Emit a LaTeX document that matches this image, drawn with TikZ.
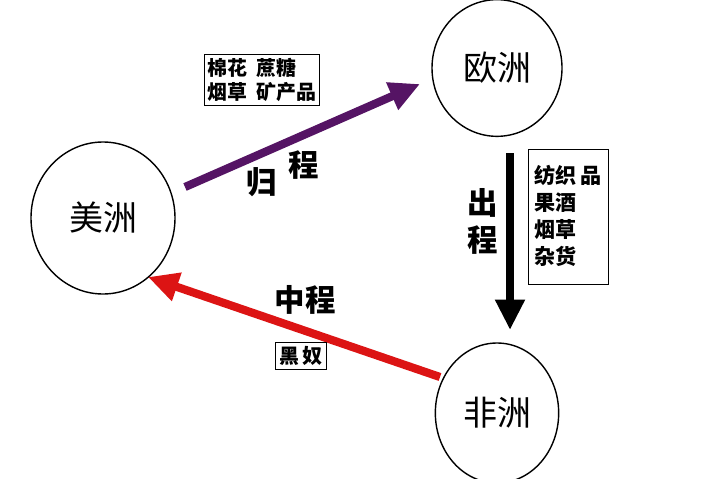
\documentclass[tikz,border=0pt]{standalone}
\usepackage{fontspec}
\setmainfont{Noto Sans CJK SC}
\usetikzlibrary{shapes.geometric,arrows.meta}
\begin{document}
\begin{tikzpicture}[x=0.03cm,y=-0.03cm,
  cont/.style={draw,ellipse,line width=1.2pt,inner sep=0pt,font=\fontsize{29}{29}\selectfont},
  arr/.style={line width=7pt,-{Triangle[length=26pt,width=24pt]}},
  lab/.style={font=\fontsize{26}{26}\selectfont\bfseries},
  box/.style={draw,line width=0.8pt,font=\fontsize{17}{21}\selectfont\bfseries,align=left,inner sep=3pt}]
\useasboundingbox (0,0) rectangle (713,478);
\node[cont,minimum width=4.32cm,minimum height=4.56cm] (am) at (103,218) {美洲};
\node[cont,minimum width=3.9cm,minimum height=4.1cm] (eu) at (497,68) {欧洲};
\node[cont,minimum width=3.7cm,minimum height=4.2cm] (af) at (497,413) {非洲};
\coordinate (p1) at (185,187); \coordinate (p2) at (420,84);
\coordinate (b1) at (510,153); \coordinate (b2) at (510,330);
\coordinate (r1) at (440,377); \coordinate (r2) at (148,277);
\draw[arr,draw={rgb,255:red,85;green,20;blue,100},fill={rgb,255:red,85;green,20;blue,100}] (p1) -- (p2);
\draw[arr,black] (b1) -- (b2);
\draw[arr,draw={rgb,255:red,220;green,20;blue,20},fill={rgb,255:red,220;green,20;blue,20}] (r1) -- (r2);
\node[lab] (g1) at (262,182) {归};
\node[lab] (g2) at (304,165) {程};
\node[lab] (c1) at (483,203) {出};
\node[lab] (c2) at (483,240) {程};
\node[lab] (z) at (305,300) {中程};
\node[box] (tb) at (262,80) {棉花\ \ 蔗糖\\烟草\ \ 矿产品};
\node[box] (hn) at (301,356) {黑\,奴};
\node[draw,line width=0.8pt,minimum width=2.4cm,minimum height=4.05cm] (rb) at (568,217) {};
\node[font=\fontsize{18}{23}\selectfont\bfseries,align=left] (rt) at (568,216) {纺织\,品\\果酒\\烟草\\杂货};
\end{tikzpicture}
\end{document}
